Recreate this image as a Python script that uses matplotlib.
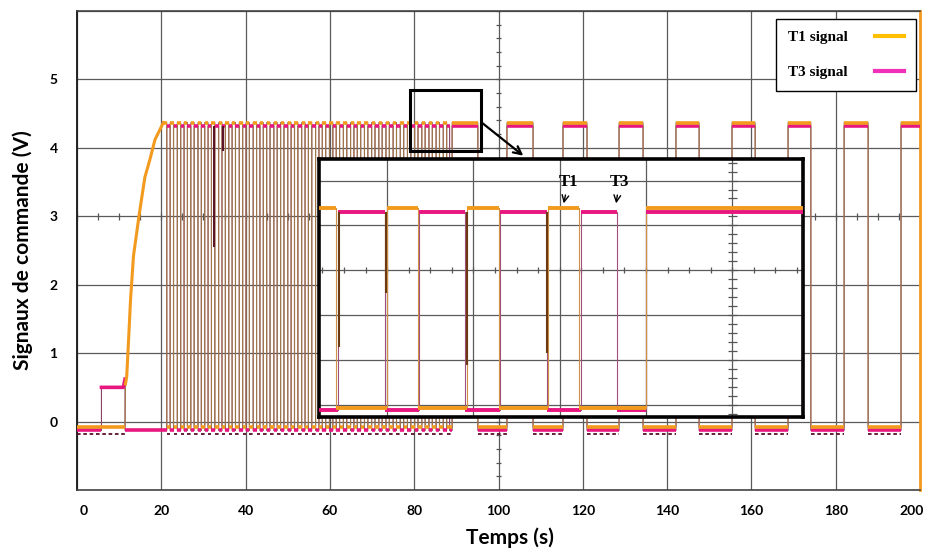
import numpy as np
import matplotlib
matplotlib.use('Agg')
import matplotlib.pyplot as plt
import matplotlib.transforms as mtransforms
from matplotlib.lines import Line2D
from matplotlib.patches import Rectangle

plt.rcParams['font.family'] = ['Lato', 'DejaVu Sans']

# ---- data ----
x_ticks = [0, 20, 40, 60, 80, 100, 120, 140, 160, 180, 200]
y_ticks = [-1, 0, 1, 2, 3, 4, 5, 6]
y_labels = ['', '0', '1', '2', '3', '4', '5', '']

# T1 soft start (s, V)
soft_t = [0, 11.4, 11.5, 11.8, 12.2, 12.7, 13.4, 14.7, 16.1, 17.3, 18.5, 20.1, 20.5]
soft_v = [-0.08, -0.08, 0.55, 0.66, 1.15, 1.78, 2.42, 3.0, 3.57, 3.83, 4.12, 4.32, 4.37]

# T3 pre-charge step
pre_t = [0, 5.8, 5.8, 11.0, 11.4, 11.4]
pre_v = [-0.13, -0.13, 0.5, 0.5, 0.62, -0.13]

# complementary switching phase: rising edges of T1 and T3
t1_rise = [20.5, 22.1, 23.8, 25.4, 27.0, 28.7, 30.3, 31.9, 33.6, 35.2, 36.8, 38.5, 40.1,
           41.8, 43.4, 45.0, 46.7, 48.3, 50.0, 51.6, 53.3, 54.9, 56.6, 58.2, 59.9, 61.5,
           63.2, 64.9, 66.5, 68.2, 69.9, 71.6, 73.3, 75.0, 76.7, 78.4, 80.1, 81.8, 83.5,
           85.2, 86.9]
t3_rise = [21.3, 22.9, 24.6, 26.2, 27.8, 29.5, 31.1, 32.7, 34.4, 36.0, 37.6, 39.3, 40.9,
           42.6, 44.2, 45.8, 47.5, 49.1, 50.8, 52.4, 54.1, 55.7, 57.4, 59.0, 60.7, 62.3,
           64.0, 65.7, 67.3, 69.0, 70.7, 72.4, 74.1, 75.8, 77.5, 79.2, 80.9, 82.6, 84.3,
           86.0, 87.7]
dense_end = 88.4

# both signals on together
pulse_on = [89.0, 102.0, 115.3, 128.6, 142.1, 155.4, 168.7, 182.0, 195.5]
pulse_off = [95.1, 108.2, 121.0, 134.3, 147.6, 160.9, 174.1, 187.7, 201.0]

# glitches in the switching phase
glitch_t = [32.5, 34.6]
glitch_v = [2.55, 3.95]

t1_hi, t1_lo = 4.37, -0.08
t3_hi, t3_lo = 4.32, -0.13

# zoomed view (inset units: graticule divisions in x, volts in y)
ins_t1_on = [-0.79, 0.0, 0.93, 1.87, 3.0]
ins_t1_off = [-0.59, 0.36, 1.30, 2.22, 4.82]
ins_t3_on = [-0.57, 0.37, 1.31, 2.25, 3.0]
ins_t3_off = [-0.03, 0.90, 1.85, 2.66, 4.82]
ins_glitch_u = [-0.56, -0.01, 0.92, 1.85]
ins_glitch_v = [1.29, 2.5, 0.9, 1.16]
ins_t1_hi, ins_t1_lo = 4.39, -0.07
ins_t3_hi, ins_t3_lo = 4.30, -0.12

ORANGE = '#F29A1E'
PINK = '#E8177F'
OR_EDGE = '#A07848'
PK_EDGE = '#8C4466'
DARK = '#5A1026'


def step_path(intervals, hi, lo):
    xs, ys = [], []
    for on, off in intervals:
        xs += [on, on, off, off]
        ys += [lo, hi, hi, lo]
    return xs, ys


def gaps(intervals, start):
    out = []
    prev = start
    for on, off in intervals:
        if on > prev:
            out.append((prev, on))
        prev = off
    return out


def draw_signal(a, path_x, path_y, highs, lows, hi, lo, col, edge, lw):
    a.plot(path_x, path_y, color=edge, lw=0.8, zorder=3)
    a.hlines([hi] * len(highs), [h[0] for h in highs], [h[1] for h in highs],
             color=col, lw=lw, zorder=4)
    a.hlines([lo] * len(lows), [g[0] for g in lows], [g[1] for g in lows],
             color=col, lw=lw, zorder=4)


fig = plt.figure(figsize=(9.28, 5.53), dpi=100)
ax = fig.add_axes([77 / 928, 63 / 553, 843 / 928, 479 / 553])
ax.set_xlim(0, 200)
ax.set_ylim(-1, 6)
ax.set_xticks(x_ticks)
ax.set_xticklabels([str(v) for v in x_ticks])
ax.set_yticks(y_ticks)
ax.set_yticklabels(y_labels)
ax.tick_params(length=0, labelsize=10)
ax.tick_params(axis='x', pad=11)
ax.tick_params(axis='y', pad=14)
for lab in ax.get_xticklabels() + ax.get_yticklabels():
    lab.set_fontweight('bold')
xlabs = ax.get_xticklabels()
xlabs[0].set_transform(xlabs[0].get_transform() +
                       mtransforms.ScaledTranslation(7 / 100, 0, fig.dpi_scale_trans))
xlabs[-1].set_transform(xlabs[-1].get_transform() +
                        mtransforms.ScaledTranslation(-8 / 100, 0, fig.dpi_scale_trans))
ax.grid(True, color='#5a5a5a', lw=0.9, zorder=0)
ax.set_axisbelow(True)
for s in ['top', 'bottom']:
    ax.spines[s].set_color('#444444')
    ax.spines[s].set_linewidth(1.2)
ax.spines['left'].set_color('#222222')
ax.spines['left'].set_linewidth(1.4)
ax.spines['right'].set_color(ORANGE)
ax.spines['right'].set_linewidth(2)

# graticule centre ticks
ax.hlines(np.arange(-1, 6.01, 0.2), 99.3, 100.7, color='#555555', lw=0.9, zorder=1)
ax.vlines(np.arange(0, 200.1, 5), 2.95, 3.05, color='#555555', lw=0.9, zorder=1)

# T3
t3_highs = list(zip(t3_rise, t1_rise[1:] + [dense_end])) + list(zip(pulse_on, pulse_off))
px, py = step_path(t3_highs, t3_hi, t3_lo)
t3_lows = [(0, 5.8)] + gaps(t3_highs, 11.4)
draw_signal(ax, pre_t + px, pre_v + py, t3_highs, t3_lows, t3_hi, t3_lo, PINK, PK_EDGE, 2.6)
ax.plot(pre_t[2:5], pre_v[2:5], color=PINK, lw=2.6, zorder=4)

# T1
t1_highs = list(zip(t1_rise, t3_rise)) + list(zip(pulse_on, pulse_off))
px, py = step_path(t1_highs[1:], t1_hi, t1_lo)
path_x = soft_t + [t3_rise[0], t3_rise[0]] + px
path_y = soft_v + [t1_hi, t1_lo] + py
t1_lows = [(0, 11.4)] + gaps(t1_highs, t1_highs[0][1])
draw_signal(ax, path_x, path_y, t1_highs, t1_lows, t1_hi, t1_lo, ORANGE, OR_EDGE, 2.6)
ax.plot(soft_t[2:], soft_v[2:], color=ORANGE, lw=2.2, zorder=4)
ax.hlines([-0.18] * len(t1_lows), [g[0] for g in t1_lows], [g[1] for g in t1_lows],
          color=DARK, lw=1.3, linestyles=(0, (2, 1.5)), zorder=4)
ax.vlines(glitch_t, glitch_v, t3_hi, color=DARK, lw=1.4, zorder=5)

# zoom box + arrow
ax.add_patch(Rectangle((79.0, 3.95), 16.85, 0.9, fill=False, ec='black', lw=2.2, zorder=6))
ax.annotate('', xy=(106.4, 3.86), xytext=(95.6, 4.39),
            arrowprops=dict(arrowstyle='->', color='black', lw=1.6, mutation_scale=14),
            zorder=6)

ax.set_xlabel('Temps (s)', fontsize=15, fontweight='bold')
ax.xaxis.set_label_coords(0.514, -0.078)
ax.set_ylabel('Signaux de commande (V)', fontsize=15, fontweight='bold')
ax.yaxis.set_label_coords(-0.052, 0.5)

handles = [Line2D([], [], color='#FFC000', lw=3), Line2D([], [], color='#F030B8', lw=3)]
leg = ax.legend(handles, ['T1 signal', 'T3 signal'], loc='upper right',
                bbox_to_anchor=(0.995, 0.983), markerfirst=False, fancybox=False,
                edgecolor='black', framealpha=1, labelspacing=1.4, handlelength=1.9,
                handletextpad=1.8, borderpad=0.75, borderaxespad=0,
                prop=dict(family='Liberation Serif', weight='bold', size=11))
leg.get_frame().set_linewidth(1.0)
leg.set_zorder(10)

# ---- inset ----
ins = fig.add_axes([319 / 928, 136 / 553, 484 / 928, 258 / 553])
ins.set_xlim(-0.79, 4.82)
ins.set_ylim(-0.27, 5.48)
ins.set_facecolor('white')
ins.set_xticks([0, 1, 2, 3, 4])
ins.set_yticks([0, 1, 2, 3, 4, 5])
ins.set_xticklabels([])
ins.set_yticklabels([])
ins.tick_params(length=0)
ins.grid(True, color='#5a5a5a', lw=0.9)
ins.set_axisbelow(True)
for s in ins.spines.values():
    s.set_linewidth(2.6)
    s.set_color('black')
ins.hlines(np.arange(-0.2, 5.5, 0.2), 3.95, 4.05, color='#555555', lw=0.9, zorder=1)
ins.vlines(np.arange(-0.75, 4.8, 0.25), 2.93, 3.07, color='#555555', lw=0.9, zorder=1)

i3 = list(zip(ins_t3_on, ins_t3_off))
px, py = step_path(i3, ins_t3_hi, ins_t3_lo)
draw_signal(ins, [-0.79] + px, [ins_t3_lo] + py, i3, gaps(i3, -0.79),
            ins_t3_hi, ins_t3_lo, PINK, '#A0507E', 2.8)
i1 = list(zip(ins_t1_on, ins_t1_off))
px, py = step_path(i1[1:], ins_t1_hi, ins_t1_lo)
draw_signal(ins, [-0.79, ins_t1_off[0], ins_t1_off[0]] + px,
            [ins_t1_hi, ins_t1_hi, ins_t1_lo] + py, i1, gaps(i1, -0.79),
            ins_t1_hi, ins_t1_lo, ORANGE, '#D09048', 2.8)
ins.vlines(ins_glitch_u, ins_glitch_v, ins_t3_hi, color='#6A3A10', lw=1.5, zorder=5)

ann = dict(fontsize=12, fontweight='bold', family='Liberation Serif', ha='center', va='bottom',
           arrowprops=dict(arrowstyle='->', color='black', lw=1.0, mutation_scale=12))
ins.annotate('T1', xy=(2.04, 4.43), xytext=(2.10, 4.80), **ann)
ins.annotate('T3', xy=(2.65, 4.43), xytext=(2.69, 4.80), **ann)

fig.savefig('out.png', dpi=100)
